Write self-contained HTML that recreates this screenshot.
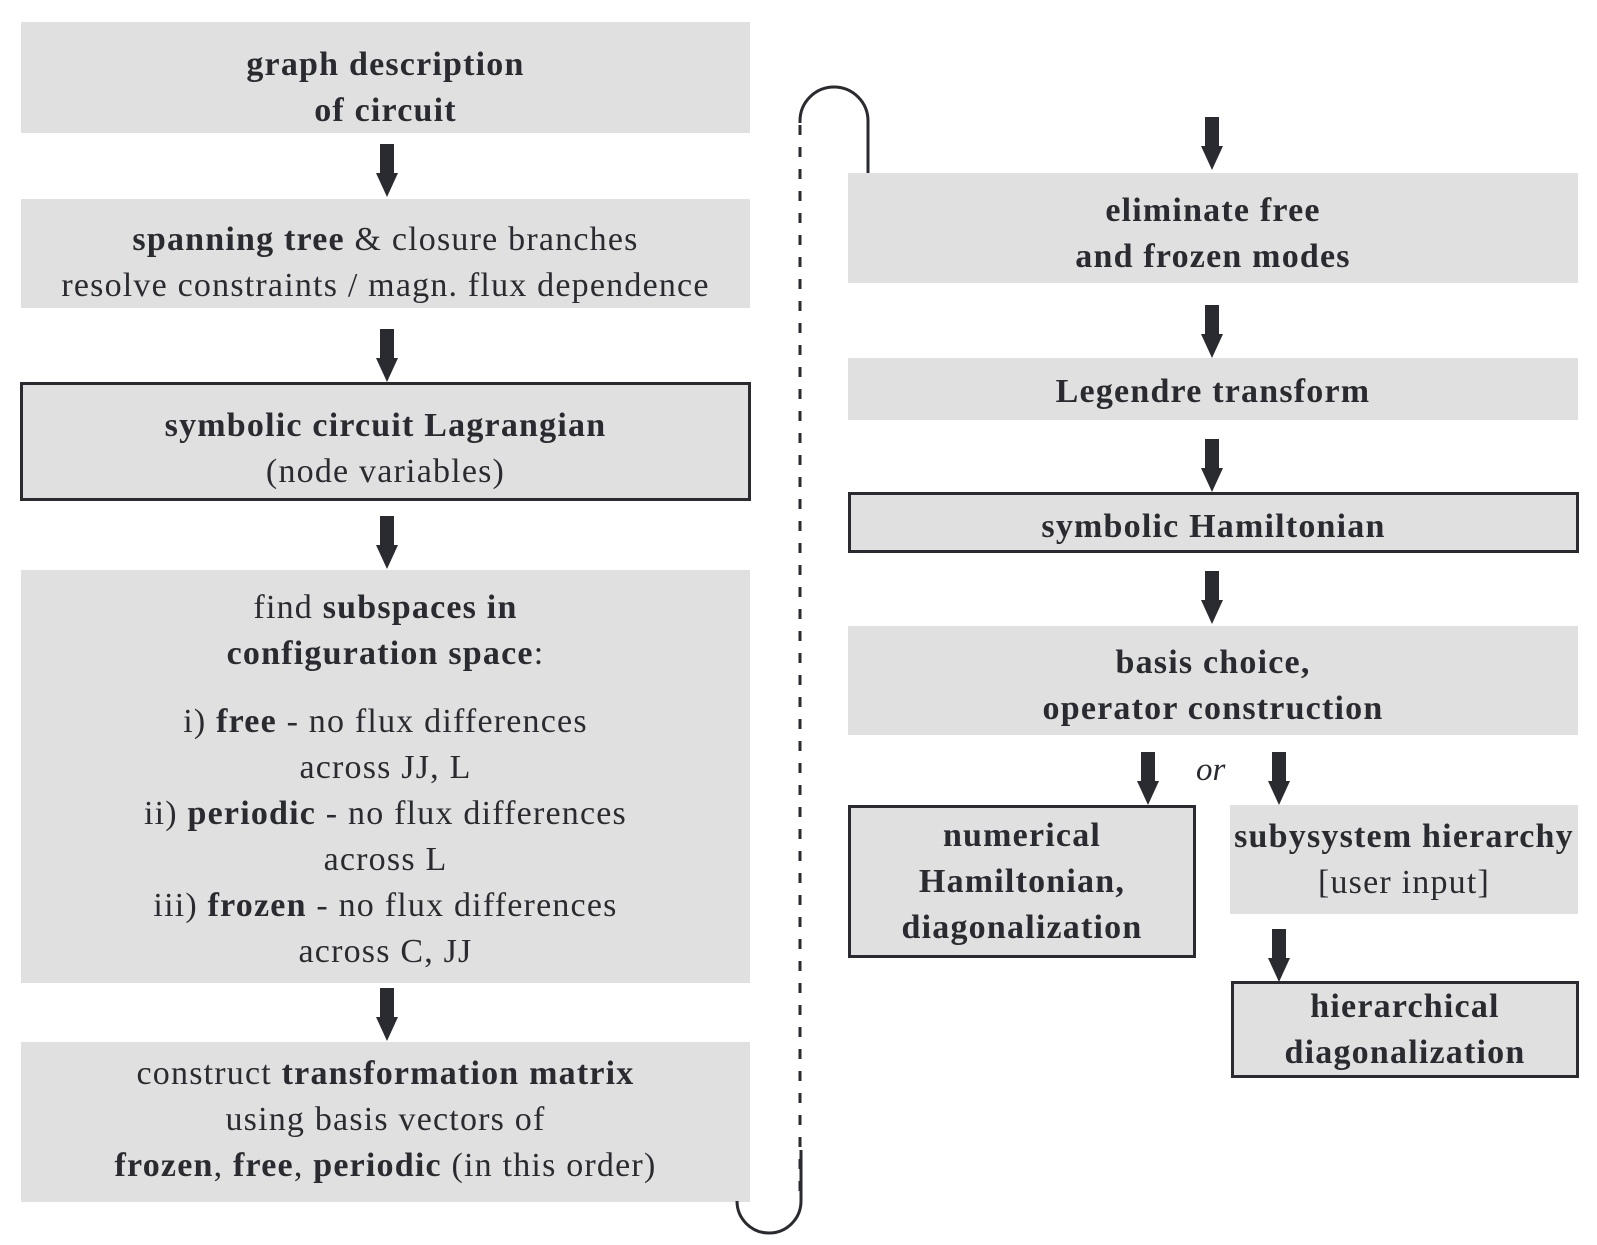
<!DOCTYPE html>
<html><head><style>
body{margin:0;width:1597px;height:1245px;background:#fff;position:relative;overflow:hidden;font-family:"Liberation Serif",serif;color:#2a2b30}
.b{position:absolute;background:#e0e0e0;display:flex;flex-direction:column;align-items:center;justify-content:center;text-align:center;font-size:34px;line-height:46px;letter-spacing:1.2px;box-sizing:border-box;white-space:nowrap}
.k{border:3px solid #2a2b30}
b{font-weight:bold}
</style></head><body>
<div class="b" style="left:21px;top:22px;width:729px;height:111px;padding-top:20px"><div><b>graph description</b></div><div><b>of circuit</b></div></div>
<div class="b" style="left:21px;top:199px;width:729px;height:109px;padding-top:18px"><div><b>spanning tree</b> &amp; closure branches</div><div>resolve constraints / magn. flux dependence</div></div>
<div class="b k" style="left:20px;top:382px;width:731px;height:119px;padding-top:14px"><div><b>symbolic circuit Lagrangian</b></div><div>(node variables)</div></div>
<div class="b" style="left:21px;top:570px;width:729px;height:413px;padding-top:6px"><div>find <b>subspaces in</b></div><div><b>configuration space</b>:</div><div style="height:22px"></div><div>i) <b>free</b> - no flux differences</div><div>across JJ, L</div><div>ii) <b>periodic</b> - no flux differences</div><div>across L</div><div>iii) <b>frozen</b> - no flux differences</div><div>across C, JJ</div></div>
<div class="b" style="left:21px;top:1042px;width:729px;height:160px;padding-bottom:4px"><div>construct <b>transformation matrix</b></div><div>using basis vectors of</div><div><b>frozen</b>, <b>free</b>, <b>periodic</b> (in this order)</div></div>

<div class="b" style="left:848px;top:173px;width:730px;height:110px;padding-top:12px"><div><b>eliminate free</b></div><div><b>and frozen modes</b></div></div>
<div class="b" style="left:848px;top:358px;width:730px;height:62px;padding-top:6px"><div><b>Legendre transform</b></div></div>
<div class="b k" style="left:848px;top:492px;width:731px;height:61px;padding-top:8px"><div><b>symbolic Hamiltonian</b></div></div>
<div class="b" style="left:848px;top:626px;width:730px;height:109px;padding-top:10px"><div><b>basis choice,</b></div><div><b>operator construction</b></div></div>
<div class="b k" style="left:848px;top:805px;width:348px;height:153px"><div><b>numerical</b></div><div><b>Hamiltonian,</b></div><div><b>diagonalization</b></div></div>
<div class="b" style="left:1230px;top:805px;width:348px;height:109px"><div><b>subysystem hierarchy</b></div><div>[user input]</div></div>
<div class="b k" style="left:1231px;top:981px;width:348px;height:97px"><div><b>hierarchical</b></div><div><b>diagonalization</b></div></div>
<div style="position:absolute;left:1196px;top:752px;font-size:33px;font-style:italic">or</div>

<svg width="1597" height="1245" style="position:absolute;left:0;top:0">
<defs><g id="a"><rect x="-7" y="0" width="14" height="30" fill="#2a2b30"/><polygon points="-11,29 11,29 0,53" fill="#2a2b30"/></g></defs>
<use href="#a" x="387" y="144"/><use href="#a" x="387" y="329"/><use href="#a" x="387" y="516"/><use href="#a" x="387" y="988"/>
<use href="#a" x="1212" y="117"/><use href="#a" x="1212" y="305"/><use href="#a" x="1212" y="439"/><use href="#a" x="1212" y="571"/>
<use href="#a" x="1148" y="752"/><use href="#a" x="1279" y="752"/><use href="#a" x="1279" y="929"/>
<path d="M868,173 V121 A34,34 0 0 0 800,121 V123" fill="none" stroke="#2a2b30" stroke-width="3"/>
<line x1="800" y1="125" x2="800" y2="1195" stroke="#2a2b30" stroke-width="3" stroke-dasharray="10,12"/>
<path d="M801,1150 V1201 A32,32 0 0 1 737,1201 V1202" fill="none" stroke="#2a2b30" stroke-width="3"/>
</svg>
</body></html>
